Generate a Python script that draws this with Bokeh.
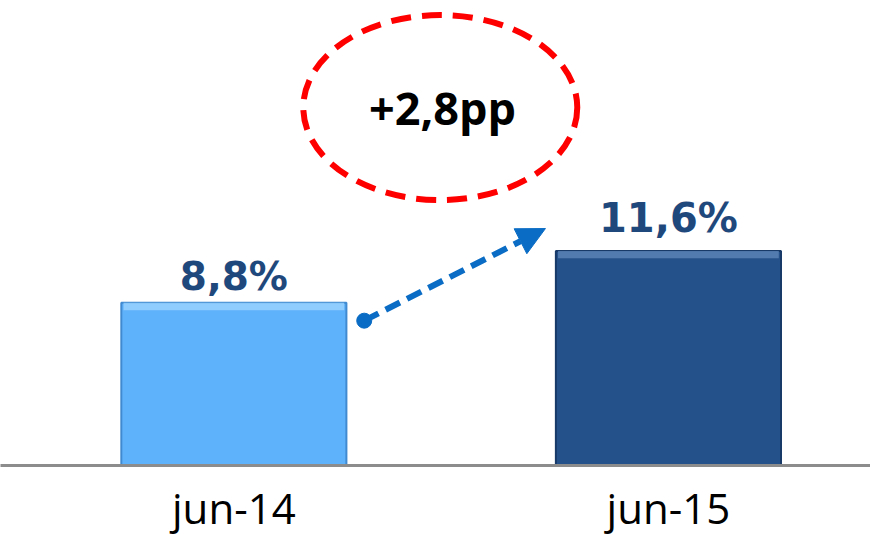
from bokeh.plotting import figure
from bokeh.models import Range1d, FixedTicker, Arrow, NormalHead
from bokeh.core.properties import value
from bokeh.embed import file_html
from bokeh.resources import INLINE

categories = ["jun-14", "jun-15"]
values = [8.8, 11.6]
value_labels = ["8,8%", "11,6%"]
bar_colors = ["#5EB2FB", "#25518A"]
edge_colors = ["#3F8AD0", "#173A68"]
highlight_colors = ["#9AD3FF", "#5E86B8"]

xs = [0, 1]
diff = values[1] - values[0]
diff_label = "+" + f"{diff:.1f}".replace(".", ",") + "pp"

p = figure(width=870, height=538, x_range=Range1d(-0.537, 1.465), y_range=Range1d(0, 25.14),
           output_backend="svg", toolbar_location=None, y_axis_location=None,
           min_border_left=0, min_border_right=0, min_border_top=0, min_border_bottom=73)
p.outline_line_color = None
p.grid.visible = False
p.background_fill_color = "white"
p.border_fill_color = "white"

ax = p.xaxis[0]
ax.ticker = FixedTicker(ticks=xs)
ax.major_label_overrides = {x: c for x, c in zip(xs, categories)}
ax.major_tick_line_color = None
ax.minor_tick_line_color = None
ax.major_tick_out = 0
ax.major_tick_in = 0
ax.axis_line_color = "#8C8C8C"
ax.axis_line_width = 3
ax.major_label_text_font = "Open Sans"
ax.major_label_text_font_size = "42px"
ax.major_label_text_line_height = 0.85
ax.major_label_text_color = "#000000"
ax.major_label_standoff = 13

# bars
p.vbar(x=xs, top=values, bottom=0, width=0.518, fill_color=bar_colors,
       line_color=edge_colors, line_width=2)
# bevel highlight on top of bars
p.vbar(x=xs, top=values, bottom=[v - 0.4 for v in values], width=0.508,
       fill_color=highlight_colors, fill_alpha=0.8, line_color=None)

# value labels
p.text(x=[xs[0]], y=[values[0]], text=[value_labels[0]], text_align="center",
       text_baseline="alphabetic", y_offset=-26, text_font=value("DejaVu Sans"),
       text_font_style="bold", text_font_size="39px", text_color="#1F497D")
p.text(x=[xs[1]], y=[values[1]], text=[value_labels[1]], text_align="center",
       text_baseline="alphabetic", y_offset=-33, text_font=value("DejaVu Sans"),
       text_font_style="bold", text_font_size="40px", text_color="#1F497D")

# arrow between bars
x0, y0 = xs[0] + 0.30, values[0] - 0.97
x1, y1 = xs[1] - 0.283, values[1] + 1.21
p.add_layout(Arrow(x_start=x0, y_start=y0, x_end=x1, y_end=y1,
                   line_color="#0A6CC4", line_width=6, line_dash="16 8",
                   end=NormalHead(size=28, fill_color="#0A6CC4", line_color="#0A6CC4")))
p.scatter(x=[x0], y=[y0], size=15, marker="circle", fill_color="#0A6CC4", line_color="#0A6CC4")

# dashed ellipse with difference
ex = (xs[0] + xs[1]) / 2 - 0.025
ey = max(values) + 7.75
p.ellipse(x=[ex], y=[ey], width=274, height=185, width_units="screen", height_units="screen",
          fill_color=None, line_color="#FF0000", line_width=6, line_dash="20 11")
p.text(x=[ex + 0.005], y=[ey], text=[diff_label], text_align="center", text_baseline="middle",
       text_font=value("Open Sans"), text_font_style="bold", text_font_size="45px",
       text_color="#000000")

open("out.html", "w").write(file_html(p, INLINE))
